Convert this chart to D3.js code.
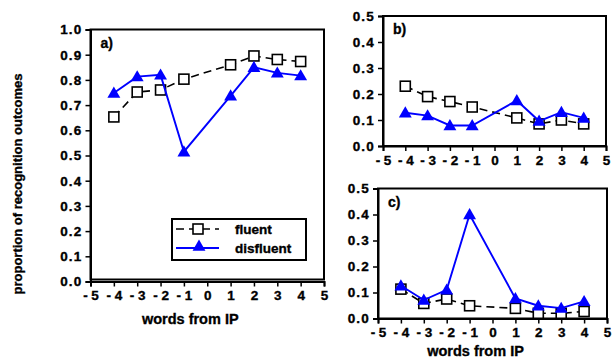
<!DOCTYPE html>
<html>
<head>
<meta charset="utf-8">
<script src="https://cdn.jsdelivr.net/npm/d3@7"></script>
<style>
  body { margin: 0; background: #fff; }
  svg { display: block; font-family: "Liberation Sans", Arial, sans-serif; }
</style>
</head>
<body>
<svg id="chart" width="613" height="360"></svg>
<script>
// word positions relative to the interruption point
const wordPos = [-4, -3, -2, -1, 1, 2, 3, 4];
const xTicks = [-5, -4, -3, -2, -1, 0, 1, 2, 3, 4, 5];

const fluentA = [0.653, 0.752, 0.76, 0.803, 0.86, 0.895, 0.881, 0.873];
const disfluentA = [0.748, 0.813, 0.82, 0.515, 0.737, 0.85, 0.828, 0.817];

const fluentB = [0.23, 0.19, 0.171, 0.15, 0.108, 0.085, 0.1, 0.085];
const disfluentB = [0.128, 0.117, 0.079, 0.079, 0.175, 0.096, 0.13, 0.108];

const fluentC = [0.113, 0.058, 0.075, 0.049, 0.039, 0.02, 0.02, 0.027];
const disfluentC = [0.126, 0.071, 0.11, 0.40, 0.077, 0.049, 0.04, 0.066];

const yTicksA = d3.range(0, 11).map(d => d / 10);
const yTicksBC = d3.range(0, 6).map(d => d / 10);

const seriesNames = ['fluent', 'disfluent'];

const svg = d3.select('#chart');

const panels = [
  { label: 'a)', left: 90.5, right: 324, top: 29.5, bottom: 281.5, yMax: 1.0, yTicks: yTicksA,
    fluent: fluentA, disfluent: disfluentA, titleY: 324, inset: 2 },
  { label: 'b)', left: 383, right: 606, top: 16, bottom: 146, yMax: 0.5, yTicks: yTicksBC,
    fluent: fluentB, disfluent: disfluentB, titleY: null, inset: 0 },
  { label: 'c)', left: 378, right: 607, top: 188.5, bottom: 318.5, yMax: 0.5, yTicks: yTicksBC,
    fluent: fluentC, disfluent: disfluentC, titleY: 356, inset: 0 }
];

const triangle = d3.symbol().type(d3.symbolTriangle).size(72);

// heavier text, closer to the scanned look
function heavy(sel, size) {
  sel.style('font-size', size + 'px').style('font-weight', 'bold')
    .style('font-family', '"Liberation Sans", Arial, sans-serif')
    .attr('fill', '#000').attr('stroke', '#000').attr('stroke-width', 0.35);
}

function drawPanel(p) {
  const x = d3.scaleLinear().domain([-5, 5]).range([p.left, p.right]);
  const y = d3.scaleLinear().domain([0, p.yMax]).range([p.bottom, p.top]);
  const g = svg.append('g');

  // plot area border
  g.append('rect')
    .attr('x', p.left).attr('y', p.top)
    .attr('width', p.right - p.left).attr('height', p.bottom - p.top - p.inset)
    .attr('fill', 'none').attr('stroke', '#000').attr('stroke-width', 2);

  const xAxis = d3.axisBottom(x).tickValues(xTicks).tickSize(5).tickPadding(4)
    .tickFormat(d => d < 0 ? '- ' + Math.abs(d) : String(d));
  const gx = g.append('g').attr('transform', `translate(0,${p.bottom})`).call(xAxis);

  const yAxis = d3.axisLeft(y).tickValues(p.yTicks).tickSize(5).tickPadding(3)
    .tickFormat(d3.format('.1f'));
  const gy = g.append('g').attr('transform', `translate(${p.left},0)`).call(yAxis);

  [gx, gy].forEach(ax => {
    ax.select('.domain').attr('stroke', '#000').attr('stroke-width', 2);
    ax.selectAll('.tick line').attr('stroke', '#000').attr('stroke-width', 1.5);
    ax.selectAll('text').call(heavy, 13.5);
  });
  gy.selectAll('text').style('letter-spacing', '1.2px');

  g.append('text').attr('x', p.left + 10).attr('y', p.top + 18)
    .call(heavy, 14).text(p.label);

  const line = d3.line().x((d, i) => x(wordPos[i])).y(d => y(d));

  g.append('path').datum(p.fluent).attr('d', line)
    .attr('fill', 'none').attr('stroke', '#000').attr('stroke-width', 1.6)
    .attr('stroke-dasharray', '8,5');
  g.selectAll('.sq').data(p.fluent).enter().append('rect')
    .attr('x', (d, i) => x(wordPos[i]) - 5).attr('y', d => y(d) - 5)
    .attr('width', 10).attr('height', 10)
    .attr('fill', '#fff').attr('stroke', '#000').attr('stroke-width', 1.6);

  g.append('path').datum(p.disfluent).attr('d', line)
    .attr('fill', 'none').attr('stroke', '#0000ff').attr('stroke-width', 1.9);
  g.selectAll('.tri').data(p.disfluent).enter().append('path')
    .attr('d', triangle)
    .attr('transform', (d, i) => `translate(${x(wordPos[i])},${y(d) + 1})`)
    .attr('fill', '#0000ff');

  if (p.titleY) {
    g.append('text').attr('x', (p.left + p.right) / 2 - 17).attr('y', p.titleY)
      .attr('text-anchor', 'middle')
      .call(heavy, 14.5).text('words from IP');
  }
}

panels.forEach(drawPanel);

// shared y title
svg.append('text')
  .attr('transform', 'translate(22,184) rotate(-90)')
  .attr('text-anchor', 'middle')
  .call(heavy, 13)
  .text('proportion of recognition outcomes');

// legend in panel a
const legend = svg.append('g').attr('transform', 'translate(172,219)');
legend.append('rect').attr('width', 134).attr('height', 41)
  .attr('fill', '#fff').attr('stroke', '#000').attr('stroke-width', 2);

const rows = legend.selectAll('.row').data(seriesNames).enter().append('g')
  .attr('transform', (d, i) => `translate(0,${10 + i * 19})`);

rows.append('line').attr('x1', 4).attr('x2', 47).attr('y1', 0).attr('y2', 0)
  .attr('stroke', (d, i) => i === 0 ? '#000' : '#0000ff')
  .attr('stroke-width', (d, i) => i === 0 ? 1.6 : 1.9)
  .attr('stroke-dasharray', (d, i) => i === 0 ? '8,5' : null);

rows.filter((d, i) => i === 0).append('rect')
  .attr('x', 21).attr('y', -5).attr('width', 10).attr('height', 10)
  .attr('fill', '#fff').attr('stroke', '#000').attr('stroke-width', 1.6);
rows.filter((d, i) => i === 1).append('path')
  .attr('d', triangle).attr('transform', 'translate(27,-1)').attr('fill', '#0000ff');

rows.append('text').attr('x', 63).attr('y', 5)
  .call(heavy, 13.5).text(d => d);
</script>
</body>
</html>
